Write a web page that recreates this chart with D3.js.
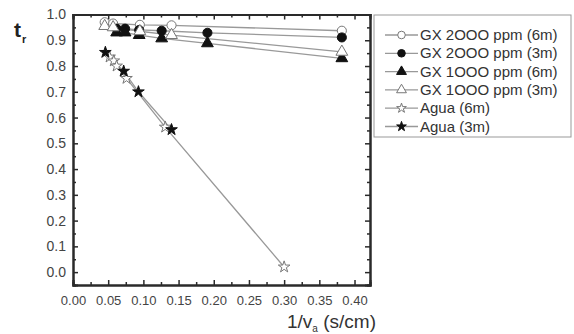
<!DOCTYPE html>
<html>
<head>
<meta charset="utf-8">
<script src="https://cdn.jsdelivr.net/npm/d3@7"></script>
<style>
body { margin: 0; background: #fff; }
svg { display: block; font-family: "Liberation Sans", Arial, sans-serif; }
</style>
</head>
<body>
<script>
// series data
var seriesNames = ['GX 2OOO ppm (6m)', 'GX 2OOO ppm (3m)', 'GX 1OOO ppm (6m)', 'GX 1OOO ppm (3m)', 'Agua (6m)', 'Agua (3m)'];

var gx2000_6m_x = [0.045, 0.057, 0.095, 0.140, 0.382];
var gx2000_6m_y = [0.970, 0.965, 0.960, 0.958, 0.937];

var gx2000_3m_x = [0.062, 0.074, 0.094, 0.126, 0.191, 0.382];
var gx2000_3m_y = [0.945, 0.945, 0.940, 0.937, 0.929, 0.911];

var gx1000_6m_x = [0.062, 0.074, 0.094, 0.126, 0.191, 0.382];
var gx1000_6m_y = [0.930, 0.930, 0.920, 0.907, 0.888, 0.830];

var gx1000_3m_x = [0.045, 0.057, 0.095, 0.140, 0.382];
var gx1000_3m_y = [0.955, 0.950, 0.935, 0.920, 0.855];

var agua_6m_x = [0.052, 0.058, 0.062, 0.076, 0.131, 0.300];
var agua_6m_y = [0.835, 0.820, 0.800, 0.752, 0.563, 0.020];

var agua_3m_x = [0.046, 0.072, 0.093, 0.140];
var agua_3m_y = [0.853, 0.780, 0.700, 0.553];

var xTicks = [0.00, 0.05, 0.10, 0.15, 0.20, 0.25, 0.30, 0.35, 0.40];
var yTicks = [0.0, 0.1, 0.2, 0.3, 0.4, 0.5, 0.6, 0.7, 0.8, 0.9, 1.0];

function zip(xs, ys) {
	return xs.map(function(x, i) { return { x: x, y: ys[i] }; });
}

var series = [
	{ name: seriesNames[0], pts: zip(gx2000_6m_x, gx2000_6m_y), sym: d3.symbolCircle, size: 65, filled: false },
	{ name: seriesNames[1], pts: zip(gx2000_3m_x, gx2000_3m_y), sym: d3.symbolCircle, size: 65, filled: true },
	{ name: seriesNames[2], pts: zip(gx1000_6m_x, gx1000_6m_y), sym: d3.symbolTriangle, size: 60, filled: true },
	{ name: seriesNames[3], pts: zip(gx1000_3m_x, gx1000_3m_y), sym: d3.symbolTriangle, size: 60, filled: false },
	{ name: seriesNames[4], pts: zip(agua_6m_x, agua_6m_y), sym: d3.symbolStar, size: 42, filled: false },
	{ name: seriesNames[5], pts: zip(agua_3m_x, agua_3m_y), sym: d3.symbolStar, size: 42, filled: true }
];

// ---------------------------- d3 -----------------------------------

var width = 574, height = 334;
var plotL = 73, plotR = 370, plotT = 14.5, plotB = 285;

var svg = d3.select('body').append('svg').attr('width', width).attr('height', height);

var x = d3.scaleLinear().domain([0, 0.422]).range([plotL, plotR]);
var y = d3.scaleLinear().domain([-0.05, 1.0]).range([plotB, plotT]);

var axisColor = '#2a2a2a';
var labelColor = '#444';

// axes, ticks pointing inward on all four sides
var xMinor = d3.range(0.025, 0.42, 0.05);
var yMinor = d3.range(-0.05, 1.0, 0.1);

var bottomAxis = d3.axisBottom(x).tickValues(xTicks).tickSize(-5).tickPadding(8).tickFormat(d3.format('.2f'));
var leftAxis = d3.axisLeft(y).tickValues(yTicks).tickSize(-5).tickPadding(7).tickFormat(d3.format('.1f'));

var gb = svg.append('g').attr('transform', 'translate(0,' + plotB + ')').call(bottomAxis);
var gl = svg.append('g').attr('transform', 'translate(' + plotL + ',0)').call(leftAxis);
svg.append('g').attr('transform', 'translate(0,' + plotT + ')')
	.call(d3.axisTop(x).tickValues(xTicks).tickSize(-5).tickFormat(''));
svg.append('g').attr('transform', 'translate(' + plotR + ',0)')
	.call(d3.axisRight(y).tickValues(yTicks).tickSize(-5).tickFormat(''));

svg.append('g').attr('transform', 'translate(0,' + plotB + ')')
	.call(d3.axisBottom(x).tickValues(xMinor).tickSize(-3).tickFormat(''));
svg.append('g').attr('transform', 'translate(' + plotL + ',0)')
	.call(d3.axisLeft(y).tickValues(yMinor).tickSize(-3).tickFormat(''));
svg.append('g').attr('transform', 'translate(0,' + plotT + ')')
	.call(d3.axisTop(x).tickValues(xMinor).tickSize(-3).tickFormat(''));
svg.append('g').attr('transform', 'translate(' + plotR + ',0)')
	.call(d3.axisRight(y).tickValues(yMinor).tickSize(-3).tickFormat(''));

svg.selectAll('.domain').attr('stroke', axisColor).attr('stroke-width', 2);
svg.selectAll('.tick line').attr('stroke', axisColor).attr('stroke-width', 1.5);
svg.selectAll('.tick text').attr('fill', labelColor).style('font-size', '13px').style('font-family', '"Liberation Sans", Arial, sans-serif');
gl.selectAll('.tick text').style('font-size', '14px');
gb.selectAll('.tick text').attr('dy', '0.9em');

// lines
var line = d3.line().x(function(d) { return x(d.x); }).y(function(d) { return y(d.y); });

svg.append('g').selectAll('path').data(series).enter().append('path')
	.attr('d', function(d) { return line(d.pts); })
	.attr('fill', 'none')
	.attr('stroke', '#999')
	.attr('stroke-width', 1.3);

// markers
series.forEach(function(s) {
	svg.append('g').selectAll('path').data(s.pts).enter().append('path')
		.attr('transform', function(d) { return 'translate(' + x(d.x) + ',' + y(d.y) + ')'; })
		.attr('d', d3.symbol().type(s.sym).size(s.size))
		.attr('fill', s.filled ? '#111' : '#fff')
		.attr('stroke', s.filled ? '#111' : '#777')
		.attr('stroke-width', 1);
});

// axis titles
var yt = svg.append('text').attr('x', 14).attr('y', 37).attr('fill', '#222')
	.style('font-size', '21px').style('font-weight', 'bold');
yt.append('tspan').text('t');
yt.append('tspan').attr('dy', 6).attr('dx', 1).style('font-size', '11px').text('r');

var xt = svg.append('text').attr('x', 287).attr('y', 328).attr('fill', '#333')
	.style('font-size', '19px');
xt.append('tspan').text('1/v');
xt.append('tspan').attr('dy', 4).style('font-size', '10px').text('a');
xt.append('tspan').attr('dy', -4).text(' (s/cm)');

// legend
var legend = svg.append('g');
legend.append('rect').attr('x', 374).attr('y', 15).attr('width', 197).attr('height', 122)
	.attr('fill', '#fff').attr('stroke', '#999').attr('stroke-width', 1);

var rows = legend.selectAll('g.row').data(series).enter().append('g')
	.attr('transform', function(d, i) { return 'translate(0,' + (35 + i * 18.3) + ')'; });
rows.append('line').attr('x1', 385).attr('x2', 418).attr('y1', 0).attr('y2', 0)
	.attr('stroke', '#999').attr('stroke-width', 1.3);
rows.append('path').attr('transform', 'translate(401.5,0)')
	.attr('d', function(d) { return d3.symbol().type(d.sym).size(d.size * 0.7)(); })
	.attr('fill', function(d) { return d.filled ? '#111' : '#fff'; })
	.attr('stroke', function(d) { return d.filled ? '#111' : '#777'; });
rows.append('text').attr('x', 420).attr('y', 5).attr('fill', '#333')
	.style('font-size', '15px').text(function(d) { return d.name; });
</script>
</body>
</html>
